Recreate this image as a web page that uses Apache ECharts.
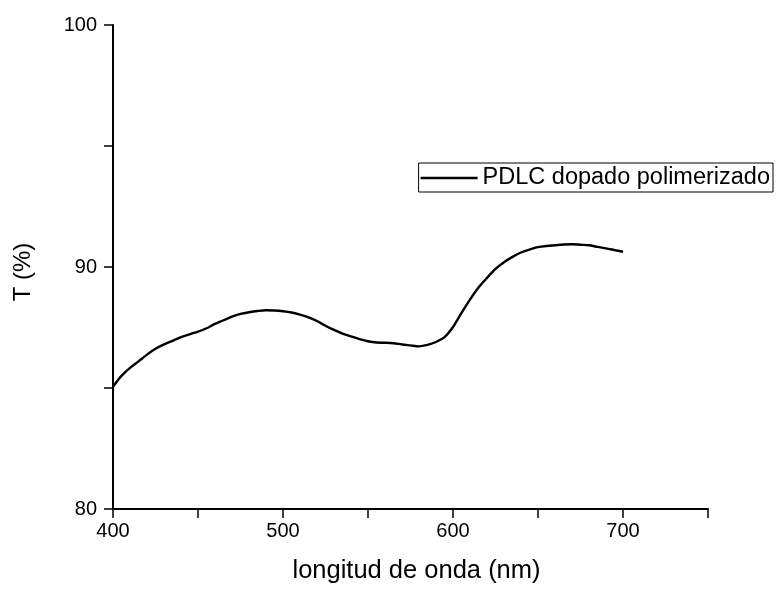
<!DOCTYPE html>
<html>
<head>
<meta charset="utf-8">
<style>
  html, body { margin: 0; padding: 0; background: #fff; }
  #chart { width: 779px; height: 589px; }
</style>
<script src="https://cdn.jsdelivr.net/npm/echarts@6/dist/echarts.min.js"></script>
</head>
<body>
<div id="chart"></div>
<script>
// Transmission spectrum of doped, polymerized PDLC
const wavelengths = [
  400, 405, 410, 415, 420, 425, 430, 435, 440, 445,
  450, 455, 460, 465, 470, 475, 480, 485, 490, 495,
  500, 505, 510, 515, 520, 525, 530, 535, 540, 545,
  550, 555, 560, 565, 570, 575, 580, 585, 590, 595,
  600, 605, 610, 615, 620, 625, 630, 635, 640, 645,
  650, 655, 660, 665, 670, 675, 680, 685, 690, 695, 700
];
const transmission = [
  85.05, 85.50, 85.83, 86.10, 86.38, 86.62, 86.80, 86.95, 87.10, 87.22,
  87.33, 87.47, 87.65, 87.80, 87.95, 88.06, 88.13, 88.18, 88.21, 88.20,
  88.17, 88.12, 88.03, 87.92, 87.77, 87.57, 87.40, 87.25, 87.13, 87.02,
  86.93, 86.88, 86.87, 86.85, 86.80, 86.76, 86.72, 86.78, 86.90, 87.10,
  87.52, 88.10, 88.65, 89.15, 89.55, 89.92, 90.20, 90.42, 90.60, 90.72,
  90.82, 90.87, 90.90, 90.93, 90.94, 90.92, 90.90, 90.83, 90.77, 90.70, 90.63
];
const seriesName = 'PDLC dopado polimerizado';
const xTitle = 'longitud de onda (nm)';
const yTitle = 'T (%)';
const xLabelValues = [400, 500, 600, 700];
const yLabelValues = [80, 90, 100];

const FONT = '"Liberation Sans", Arial, sans-serif';
const points = wavelengths.map((w, i) => [w, transmission[i]]);

const chart = echarts.init(document.getElementById('chart'), null, { renderer: 'canvas' });
chart.setOption({
  animation: false,
  backgroundColor: '#ffffff',
  grid: { left: 113, right: 71, top: 25, bottom: 77, containLabel: false },
  legend: {
    show: true,
    right: 6,
    top: 163,
    width: 400,
    orient: 'horizontal',
    padding: [3, 3, 2, 2],
    borderColor: '#000',
    borderWidth: 1,
    icon: 'rect',
    itemWidth: 57,
    itemHeight: 2.4,
    itemStyle: { color: '#000' },
    textStyle: { fontFamily: FONT, fontSize: 23.5, color: '#000' },
    data: [seriesName]
  },
  xAxis: {
    type: 'value',
    min: 400,
    max: 750,
    interval: 50,
    name: xTitle,
    nameLocation: 'middle',
    nameGap: 49,
    nameTextStyle: { fontFamily: FONT, fontSize: 25.5, color: '#000', padding: [0, 0, 0, 12] },
    splitLine: { show: false },
    axisLine: { show: true, onZero: false, lineStyle: { color: '#000', width: 2 } },
    axisTick: { show: true, inside: false, length: 9, lineStyle: { color: '#000', width: 1.5 } },
    axisLabel: {
      fontFamily: FONT, fontSize: 20, color: '#000', margin: 12,
      formatter: v => (xLabelValues.includes(v) ? String(v) : '')
    }
  },
  yAxis: {
    type: 'value',
    min: 80,
    max: 100,
    interval: 5,
    name: yTitle,
    nameLocation: 'middle',
    nameGap: 78,
    nameRotate: 90,
    nameTextStyle: { fontFamily: FONT, fontSize: 24, color: '#000', padding: [0, 0, 0, -10] },
    splitLine: { show: false },
    axisLine: { show: true, onZero: false, lineStyle: { color: '#000', width: 2 } },
    axisTick: { show: true, inside: false, length: 9, lineStyle: { color: '#000', width: 1.5 } },
    axisLabel: {
      fontFamily: FONT, fontSize: 20, color: '#000', margin: 16,
      formatter: v => (yLabelValues.includes(v) ? String(v) : '')
    }
  },
  series: [{
    name: seriesName,
    type: 'line',
    data: points,
    symbol: 'none',
    showSymbol: false,
    smooth: 0.3,
    lineStyle: { color: '#000', width: 2.4 },
    itemStyle: { color: '#000' }
  }]
});
</script>
</body>
</html>
